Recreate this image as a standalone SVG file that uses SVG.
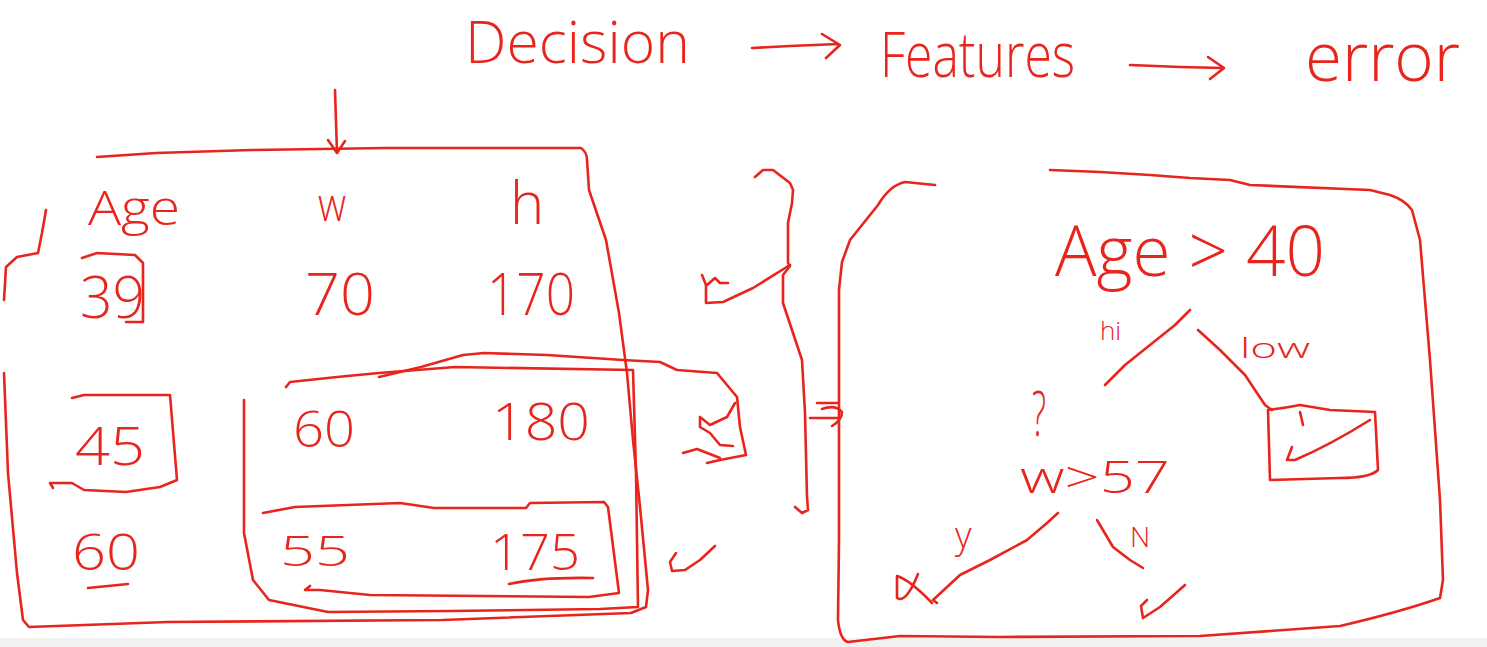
<svg xmlns="http://www.w3.org/2000/svg" width="1487" height="647" viewBox="0 0 1487 647">
<style>
.s{fill:none;stroke:#e8251c;stroke-width:2.6;stroke-linecap:round;stroke-linejoin:round}
.t{fill:#e8251c;font-family:"Open Sans","Liberation Sans",sans-serif;font-weight:300}
</style>
<rect x="0" y="0" width="1487" height="647" fill="#ffffff"/>
<rect x="0" y="638" width="1487" height="9" fill="#f1f1f1"/>

<g id="title">
<text class="t" x="465" y="63" font-size="58" textLength="225" lengthAdjust="spacingAndGlyphs">Decision</text>
<text class="t" x="880" y="77" font-size="62" textLength="195" lengthAdjust="spacingAndGlyphs">Features</text>
<text class="t" x="1305" y="81" font-size="68" textLength="155" lengthAdjust="spacingAndGlyphs">error</text>
</g>

<g id="connectors">
<path class="s" d="M752,48 L790,46 L838,44 M822,34 L840,45 L826,58"/>
<path class="s" d="M1130,65 L1180,67 L1222,68 M1208,57 L1224,68 L1210,79"/>
<path class="s" d="M335,90 L336,122 L337,152 M328,140 L337,153 L345,141"/>
<path class="s" d="M817,403 L838,403 M810,418 L840,418 M822,409 Q835,404 842,412 Q842,420 832,426"/>
<path class="s" d="M1190,310 L1175,325 L1150,345 L1125,365 L1105,385"/>
<path class="s" d="M1198,330 L1220,350 L1245,375 L1265,405 L1272,410"/>
<path class="s" d="M1058,513 L1047,523 L1027,540 L990,560 L960,575 L933,600 L937,603"/>
<path class="s" d="M1097,520 L1113,547 L1130,560 L1143,568"/>
</g>

<g id="table">
<path class="s" d="M97,157 L156,153 L252,150 L387,148 L581,148 Q587,152 587,160 L589,190 L606,240 L619,313 L627,373 L633,440 L640,507 L648,590 L646,607 L631,613 L442,620 L168,622 L29,627 L23,620 L17,573 L8,473 L4,373"/>
<path class="s" d="M46,210 L42,233 L38,253 L17,257 L6,267 L4,300"/>
<text class="t" x="88" y="225" font-size="48" textLength="92" lengthAdjust="spacingAndGlyphs">Age</text>
<text class="t" x="318" y="221" font-size="46" textLength="28" lengthAdjust="spacingAndGlyphs">w</text>
<text class="t" x="510" y="224" font-size="58">h</text>
<text class="t" x="80" y="318" font-size="58" textLength="65" lengthAdjust="spacingAndGlyphs">39</text>
<path class="s" d="M82,258 L97,253 L135,255 L143,263 L143,322 L126,322"/>
<text class="t" x="305" y="315" font-size="58" textLength="70" lengthAdjust="spacingAndGlyphs">70</text>
<text class="t" x="487" y="315" font-size="58" textLength="88" lengthAdjust="spacingAndGlyphs">170</text>
<text class="t" x="75" y="465" font-size="54" textLength="70" lengthAdjust="spacingAndGlyphs">45</text>
<path class="s" d="M72,398 L84,395 L170,395 L177,480 L160,487 L126,492 L84,490 L72,483 L50,483 L53,488"/>
<text class="t" x="293" y="447" font-size="50" textLength="62" lengthAdjust="spacingAndGlyphs">60</text>
<text class="t" x="492" y="440" font-size="52" textLength="98" lengthAdjust="spacingAndGlyphs">180</text>
<text class="t" x="72" y="570" font-size="50" textLength="68" lengthAdjust="spacingAndGlyphs">60</text>
<path class="s" d="M88,588 L128,584"/>
<text class="t" x="280" y="566" font-size="42" textLength="70" lengthAdjust="spacingAndGlyphs">55</text>
<text class="t" x="490" y="570" font-size="50" textLength="90" lengthAdjust="spacingAndGlyphs">175</text>
<path class="s" d="M509,584 Q540,577 593,578"/>
<path class="s" d="M244,400 L244,533 L253,580 L269,600 L328,612 L450,611 L600,609 L638,607 L636,473 L633,370 L455,367 L379,373 L337,377 L290,382 L286,387"/>
<path class="s" d="M379,377 L421,367 L463,355 L484,353 L547,355 L623,360 L660,362 L677,370 L717,373 L737,397 L740,427 L746,455 L720,460 L707,463"/>
<path class="s" d="M683,453 L697,449 L720,458"/>
<path class="s" d="M735,403 L727,417 L710,425 L700,417 L700,427 L710,433 L720,445 L733,446"/>
<path class="s" d="M263,513 L295,507 L400,503 L434,508 L526,508 L530,503 L604,502 L608,507 L619,593 L589,597 L370,595 L320,590 L305,590 L310,586"/>
<path class="s" d="M702,275 L706,285 L706,303 L723,302 L753,288 L790,265 M707,285 L715,278 L720,283 L728,283"/>
<path class="s" d="M715,546 L700,560 L685,570 L672,571 L670,562 L676,553"/>
</g>

<g id="brace">
<path class="s" d="M755,177 L763,170 L773,170 L790,183 L793,190 L792,203 L788,223 L788,263 L790,266 L783,275 L783,303 L793,333 L802,360 L805,413 L807,497 L808,510 L802,513 L795,507"/>
</g>

<g id="tree">
<path class="s" d="M935,185 L905,182 Q890,185 878,205 L862,225 L850,240 L842,262 L839,290 L839,540 L838,620 Q840,640 848,642 L900,636 L1000,637 L1200,636 L1340,626 Q1400,612 1440,598 L1443,580 L1440,500 L1435,430 L1430,360 L1425,300 L1420,240 L1412,210 Q1405,200 1390,195 L1370,190 L1250,185 L1230,180 L1190,178 L1150,175 L1100,172 L1050,170"/>
<text class="t" x="1055" y="276" font-size="70" textLength="270" lengthAdjust="spacingAndGlyphs">Age &gt; 40</text>
<text class="t" x="1100" y="340" font-size="26">hi</text>
<text class="t" x="1240" y="358" font-size="28" textLength="70" lengthAdjust="spacingAndGlyphs">low</text>
<path class="s" d="M1268,410 L1270,480 L1340,478 Q1370,478 1378,470 L1375,412 L1330,410 L1300,405 Q1285,408 1268,410"/>
<path class="s" d="M1300,412 L1303,425 M1292,447 L1287,460 L1295,460 Q1330,445 1370,420"/>
<text class="t" x="1032" y="436" font-size="62" textLength="14" lengthAdjust="spacingAndGlyphs">?</text>
<text class="t" x="1020" y="493" font-size="44" textLength="150" lengthAdjust="spacingAndGlyphs">w&gt;57</text>
<text class="t" x="955" y="548" font-size="36">y</text>
<text class="t" x="1130" y="547" font-size="28">N</text>
<path class="s" d="M918,574 Q906,604 897,598 L897,576 Q910,580 932,603"/>
<path class="s" d="M1185,585 L1160,607 L1143,618 L1141,606 L1147,600"/>
</g>
</svg>
